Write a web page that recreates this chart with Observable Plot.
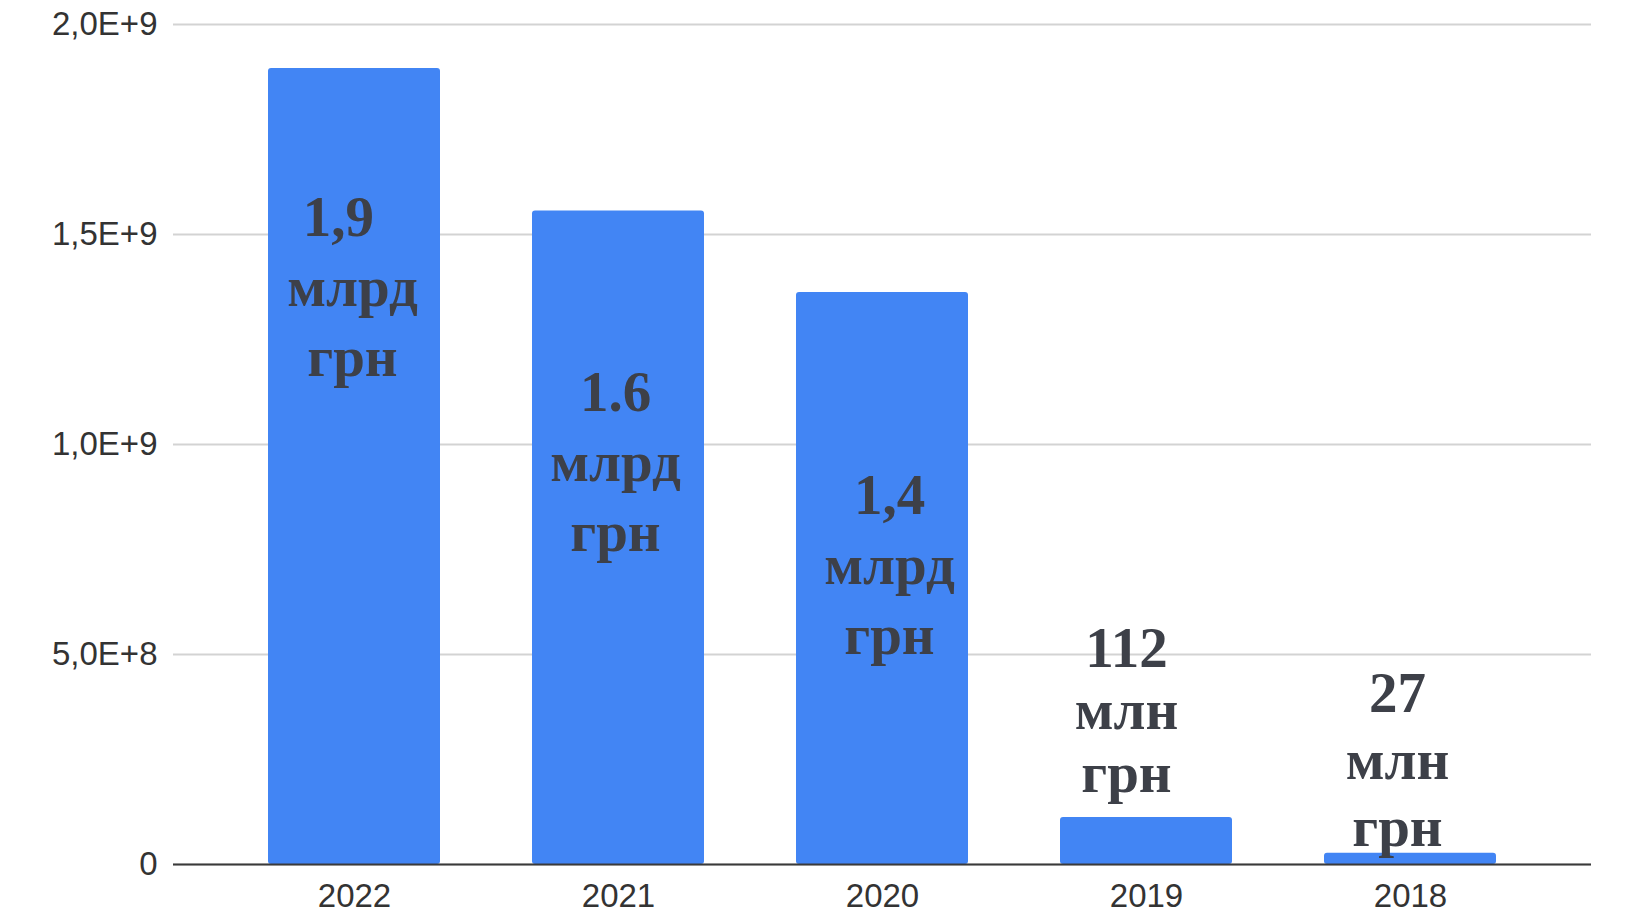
<!DOCTYPE html>
<html>
<head>
<meta charset="utf-8">
<script src="https://cdn.jsdelivr.net/npm/d3@7"></script>
<script src="https://cdn.jsdelivr.net/npm/@observablehq/plot@0.6"></script>
<style>
  html, body { margin: 0; padding: 0; background: #fff; }
  #chart svg { display: block; }
</style>
</head>
<body>
<div id="chart"></div>
<script>
// ---- data ----
const years = ["2022", "2021", "2020", "2019", "2018"];
const amounts = [1.895e9, 1.556e9, 1.362e9, 1.12e8, 2.7e7];
const labels = ["1,9\u00a0\u00a0\nмлрд\nгрн", "1.6\nмлрд\nгрн", "1,4\nмлрд\nгрн", "112\nмлн\nгрн", "27\nмлн\nгрн"];
const labelAt = [1.615e9, 1.199e9, 0.954e9, 0.577e9, 0.478e9]; // annotation anchor (data units)
const yTicks = [0, 5e8, 1e9, 1.5e9, 2e9];

const data = years.map((year, i) => ({year, amount: amounts[i], label: labels[i], at: labelAt[i]}));

const tickFormat = d => d === 0 ? "0" : d3.format(".1e")(d).replace(".", ",").replace("e", "E");

// hand placement of the annotations
const labelShift = {"2022": -2, "2021": -3, "2020": 7, "2019": -20, "2018": -13};
const labelLeading = {"2019": 1.1, "2018": 1.18};

const chart = Plot.plot({
  width: 1640,
  height: 924,
  marginLeft: 173,
  marginRight: 49,
  marginTop: 24,
  marginBottom: 60,
  style: {background: "#fff", fontFamily: "'Liberation Sans', Arial, sans-serif", fontSize: "33px", color: "#333"},
  x: {domain: years, paddingInner: 0.35, paddingOuter: 0.36, label: null},
  y: {domain: [0, 2e9], label: null},
  marks: [
    Plot.gridY(yTicks, {stroke: "#d3d3d3", strokeOpacity: 1, strokeWidth: 2}),
    Plot.barY(data, {x: "year", y: "amount", fill: "#4285F4", rx: 3}),
    Plot.ruleY([0], {stroke: "#3a3a3a", strokeWidth: 2}),
    Plot.axisY(yTicks, {tickSize: 0, tickPadding: 16, tickFormat, label: null}),
    Plot.axisX({tickSize: 0, tickPadding: 19, label: null}),
    ...data.map(d => Plot.text([d], {
      x: "year", y: "at", text: "label",
      lineAnchor: "top", lineHeight: labelLeading[d.year] || 1.23,
      dx: labelShift[d.year] || 0,
      fontFamily: "'Liberation Serif', 'DejaVu Serif', serif",
      fontWeight: "bold", fontSize: 57, fill: "#3d4048"
    }))
  ]
});
document.getElementById("chart").append(chart);
</script>
</body>
</html>
